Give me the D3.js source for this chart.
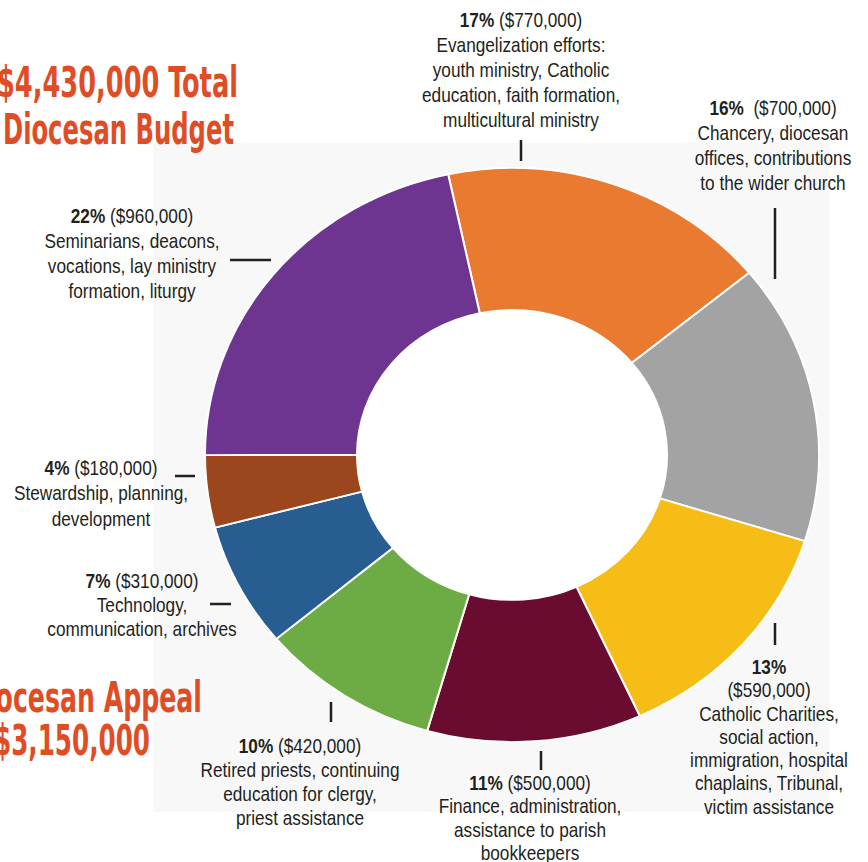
<!DOCTYPE html>
<html>
<head>
<meta charset="utf-8">
<script src="https://cdn.jsdelivr.net/npm/d3@7"></script>
<style>
  html, body { margin: 0; padding: 0; background: #fff; }
  svg { display: block; }
  .lbl { font-family: "Liberation Sans", Arial, sans-serif; font-size: 21px; fill: #231f20; }
  .ttl { font-family: "DejaVu Sans Condensed", "DejaVu Sans", sans-serif; font-weight: bold; font-size: 42px; fill: #e04d25; }
</style>
</head>
<body>
<svg id="chart" width="868" height="862"></svg>
<script>
// データ（時計回り、上のオレンジから）
var categories = [
    ['Evangelization efforts:', 'youth ministry, Catholic', 'education, faith formation,', 'multicultural ministry'],
    ['Chancery, diocesan', 'offices, contributions', 'to the wider church'],
    ['Catholic Charities,', 'social action,', 'immigration, hospital', 'chaplains, Tribunal,', 'victim assistance'],
    ['Finance, administration,', 'assistance to parish', 'bookkeepers'],
    ['Retired priests, continuing', 'education for clergy,', 'priest assistance'],
    ['Technology,', 'communication, archives'],
    ['Stewardship, planning,', 'development'],
    ['Seminarians, deacons,', 'vocations, lay ministry', 'formation, liturgy']
];
var amounts = [770000, 700000, 590000, 500000, 420000, 310000, 180000, 960000];
var percents = ['17%', '16%', '13%', '11%', '10%', '7%', '4%', '22%'];
var colors = ['#e97a2f', '#a3a3a3', '#f6bd16', '#6a0b30', '#6dac45', '#275d90', '#9b461d', '#6d3590'];
var titles = ['$4,430,000 Total', 'Diocesan Budget', 'Diocesan Appeal', '$3,150,000'];

// ラベル配置（中心x, 1行目ベースライン, 行間, 引き出し線）
var labelLayout = [
    {x: 521, y: 27,  lh: 25,   split: false, tick: [521, 140, 521, 161]},
    {x: 773, y: 115, lh: 25,   split: false, tick: [775, 208, 775, 279]},
    {x: 769, y: 674, lh: 23.3, split: true,  tick: [775, 623, 775, 645]},
    {x: 530, y: 790, lh: 23.5, split: false, tick: [541, 751, 541, 770]},
    {x: 300, y: 753, lh: 24,   split: false, tick: [331, 702, 331, 722]},
    {x: 142, y: 588, lh: 24,   split: false, tick: [210, 604, 231, 604]},
    {x: 101, y: 475, lh: 25.5, split: false, tick: [175, 476, 195, 476]},
    {x: 132, y: 223, lh: 25,   split: false, tick: [230, 260, 271, 260]}
];
var narrow = 0.82;   // Arial Narrow 相当に横を詰める

var svg = d3.select('#chart');

// うっすらグレーの背景パネル
svg.append('rect')
    .attr('x', 153).attr('y', 143)
    .attr('width', 676).attr('height', 669)
    .attr('fill', '#f8f8f9');

// ドーナツ（元図は縦にやや潰れている）
var cx = 512, cy = 455, squash = 0.935;
var innerR = 155, outerR = 307;
var pie = d3.pie().sort(null).value(function(d){ return d; })
    .startAngle(-12 * Math.PI / 180)
    .endAngle((360 - 12) * Math.PI / 180);
var arc = d3.arc().innerRadius(innerR).outerRadius(outerR);

var donut = svg.append('g')
    .attr('transform', 'translate(' + cx + ',' + cy + ') scale(1,' + squash + ')');

// 穴は白
donut.append('circle').attr('r', innerR).attr('fill', '#fff');

donut.selectAll('path')
    .data(pie(amounts))
    .join('path')
    .attr('d', arc)
    .attr('fill', function(d, i){ return colors[i]; })
    .attr('stroke', '#fff')
    .attr('stroke-width', 2);

// ラベル
labelLayout.forEach(function(L, i){
    svg.append('line')
        .attr('x1', L.tick[0]).attr('y1', L.tick[1])
        .attr('x2', L.tick[2]).attr('y2', L.tick[3])
        .attr('stroke', '#231f20').attr('stroke-width', 2.5);

    var g = svg.append('g')
        .attr('transform', 'translate(' + L.x + ',0) scale(' + narrow + ',1)');
    var t = g.append('text').attr('class', 'lbl').attr('text-anchor', 'middle');
    var money = '($' + d3.format(',')(amounts[i]) + ')';
    var line = 0;
    if (L.split) {
        t.append('tspan').attr('x', 0).attr('y', L.y).attr('font-weight', 'bold').text(percents[i]);
        line++;
        t.append('tspan').attr('x', 0).attr('y', L.y + L.lh * line).text(money);
    } else {
        var first = t.append('tspan').attr('x', 0).attr('y', L.y);
        first.append('tspan').attr('font-weight', 'bold').text(percents[i]);
        first.append('tspan').text((i === 1 ? '\u00a0 ' : ' ') + money);
    }
    categories[i].forEach(function(s){
        line++;
        t.append('tspan').attr('x', 0).attr('y', L.y + L.lh * line).text(s);
    });
});

// タイトル（左端で切れている）
var titlePos = [
    {x: 238, y: 97,  len: 241},
    {x: 234, y: 144, len: 231},
    {x: 202, y: 712, len: 236},
    {x: 150, y: 755, len: 156}
];
titles.forEach(function(s, i){
    svg.append('text').attr('class', 'ttl')
        .attr('x', titlePos[i].x).attr('y', titlePos[i].y)
        .attr('text-anchor', 'end')
        .attr('textLength', titlePos[i].len)
        .attr('lengthAdjust', 'spacingAndGlyphs')
        .text(s);
});
</script>
</body>
</html>
